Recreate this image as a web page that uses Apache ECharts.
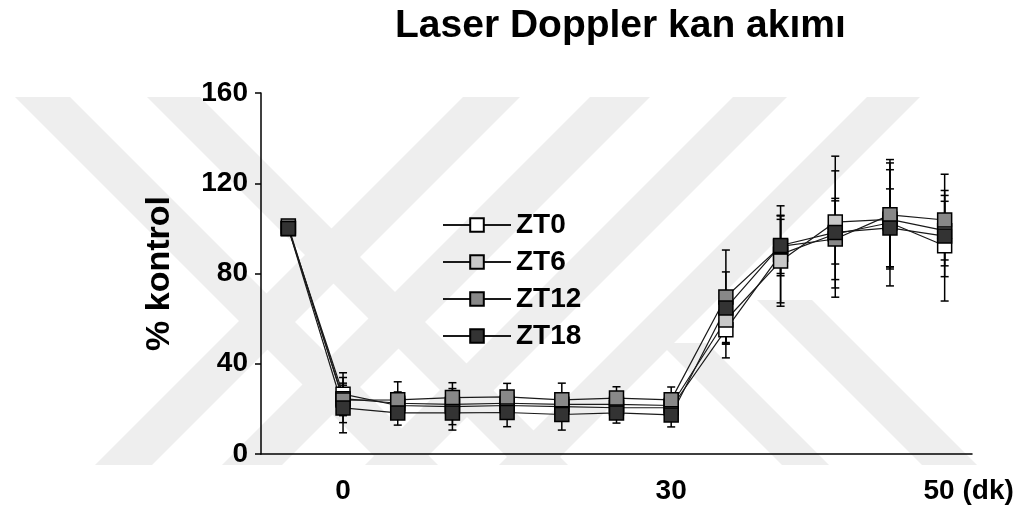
<!DOCTYPE html>
<html>
<head>
<meta charset="utf-8">
<script src="https://cdn.jsdelivr.net/npm/echarts@6/dist/echarts.min.js"></script>
<style>
  html, body { margin: 0; padding: 0; background: #fff; }
  #main { width: 1031px; height: 513px; }
</style>
</head>
<body>
<div id="main"></div>
<script>
// time points, one before occlusion and every 5 min after
const minutes = ['-5', '0', '5', '10', '15', '20', '25', '30', '35', '40', '45', '50', '55'];
const xLabels = ['', '0', '', '', '', '', '', '30', '', '', '', '', '50 (dk)'];
const yTicks = [0, 40, 80, 120, 160];

// % kontrol, mean values
const zt0 = [100, 26.5, 21.5, 21, 21.5, 21, 20.5, 20.5, 55.1, 88.5, 97.5, 102.5, 92.3];
const zt6 = [100, 24.5, 22.5, 22, 22.5, 22, 22, 21.5, 59.4, 85.5, 102.8, 104, 99];
const zt12 = [101, 23.9, 24, 25, 25.3, 24, 24.8, 24, 69.6, 92, 95.3, 106, 103.7];
const zt18 = [100, 20.4, 18.2, 18.2, 18.4, 17.5, 18.2, 17.3, 64.7, 92.4, 98.2, 100.2, 96.6];

// error bars (+/-)
const zt0Err = [2, 9.5, 4, 8, 5, 5, 4, 4, 12.5, 21.5, 28, 28, 24.5];
const zt6Err = [2, 6, 5, 6, 5, 5, 4, 4, 10, 20, 29.2, 22, 13];
const zt12Err = [2, 10, 8, 6.6, 6, 7.4, 5, 5.7, 20.8, 12, 18, 23, 20.3];
const zt18Err = [2, 11, 5.4, 7.6, 6.3, 6.9, 4.5, 5.3, 16, 13.4, 14, 17.3, 18];

const groups = [
    { name: 'ZT0', mean: zt0, err: zt0Err, color: '#ffffff' },
    { name: 'ZT6', mean: zt6, err: zt6Err, color: '#c8c8c8' },
    { name: 'ZT12', mean: zt12, err: zt12Err, color: '#888888' },
    { name: 'ZT18', mean: zt18, err: zt18Err, color: '#333333' }
];

const chart = echarts.init(document.getElementById('main'));

function renderErr(params, api) {
    const i = api.value(0);
    const m = api.value(1);
    const e = api.value(2);
    const top = api.coord([i, m + e]);
    const bot = api.coord([i, m - e]);
    const cw = 4;
    const st = { stroke: '#000', lineWidth: 1.5 };
    return {
        type: 'group',
        children: [
            { type: 'line', shape: { x1: top[0], y1: top[1], x2: bot[0], y2: bot[1] }, style: st },
            { type: 'line', shape: { x1: top[0] - cw, y1: top[1], x2: top[0] + cw, y2: top[1] }, style: st },
            { type: 'line', shape: { x1: bot[0] - cw, y1: bot[1], x2: bot[0] + cw, y2: bot[1] }, style: st }
        ]
    };
}

const errSeries = groups.map((g) => ({
    type: 'custom',
    name: g.name + ' err',
    z: 1,
    silent: true,
    renderItem: renderErr,
    data: g.mean.map((v, i) => [i, v, g.err[i]])
}));

const lineSeries = groups.map((g) => ({
    type: 'line',
    name: g.name,
    z: 3,
    data: g.mean,
    symbol: 'rect',
    symbolSize: 14,
    showAllSymbol: true,
    lineStyle: { color: '#1a1a1a', width: 1.2 },
    itemStyle: { color: g.color, borderColor: '#000', borderWidth: 1.5 },
    emphasis: { disabled: true },
    animation: false
}));

// faint diagonal watermark stripes behind the plot
const wmTop = 97, wmBottom = 465, wmH = wmBottom - wmTop;
function back(a, b) {
    return [[a, wmTop], [b, wmTop], [b + wmH, wmBottom], [a + wmH, wmBottom]];
}
function fwd(a, b) {
    return [[a, wmTop], [b, wmTop], [b - wmH, wmBottom], [a - wmH, wmBottom]];
}
const stripes = [
    back(15, 70), back(147, 200),
    fwd(463, 520), fwd(590, 650), fwd(733, 787), fwd(867, 920),
    [[660, 343], [707, 343], [829, wmBottom], [782, wmBottom]],
    [[757, 300], [812, 300], [977, wmBottom], [922, wmBottom]]
];
const watermark = stripes.map((pts) => ({
    type: 'polygon',
    silent: true,
    z: -10,
    shape: { points: pts },
    style: { fill: '#eeeeee' }
}));

const bold = { color: '#000', fontWeight: 'bold', fontFamily: '"Liberation Sans", Arial, sans-serif' };

chart.setOption({
    animation: false,
    graphic: watermark,
    title: {
        text: 'Laser Doppler kan akımı',
        left: 395,
        top: 7,
        padding: 0,
        textStyle: { ...bold, fontSize: 39 }
    },
    legend: {
        data: groups.map((g) => g.name),
        orient: 'vertical',
        left: 442,
        top: 211,
        itemWidth: 68,
        itemHeight: 17,
        itemGap: 9,
        padding: 0,
        textStyle: { ...bold, fontSize: 28 }
    },
    grid: { left: 261, right: 59, top: 93, bottom: 59 },
    xAxis: {
        type: 'category',
        data: minutes,
        boundaryGap: true,
        axisLine: { lineStyle: { color: '#000', width: 1.5 } },
        axisTick: {
            length: 6,
            lineStyle: { color: '#000', width: 1.5 },
            interval: (i) => i === 1 || i === 7 || i === 12 || i === 13
        },
        axisLabel: {
            interval: 0,
            margin: 23,
            ...bold,
            fontSize: 28,
            formatter: (v, i) => (i === 12 ? '{r|' + xLabels[i] + '}' : xLabels[i]),
            rich: { r: { ...bold, fontSize: 28, padding: [0, 0, 0, 48] } }
        }
    },
    yAxis: {
        type: 'value',
        min: yTicks[0],
        max: yTicks[yTicks.length - 1],
        interval: 40,
        name: '% kontrol',
        nameLocation: 'middle',
        nameRotate: 90,
        nameGap: 84,
        nameTextStyle: { ...bold, fontSize: 34 },
        splitLine: { show: false },
        axisLine: { show: true, lineStyle: { color: '#000', width: 1.5 } },
        axisTick: { show: true, length: 6, lineStyle: { color: '#000', width: 1.5 } },
        axisLabel: { margin: 13, ...bold, fontSize: 28 }
    },
    series: [...errSeries, ...lineSeries]
});
</script>
</body>
</html>
